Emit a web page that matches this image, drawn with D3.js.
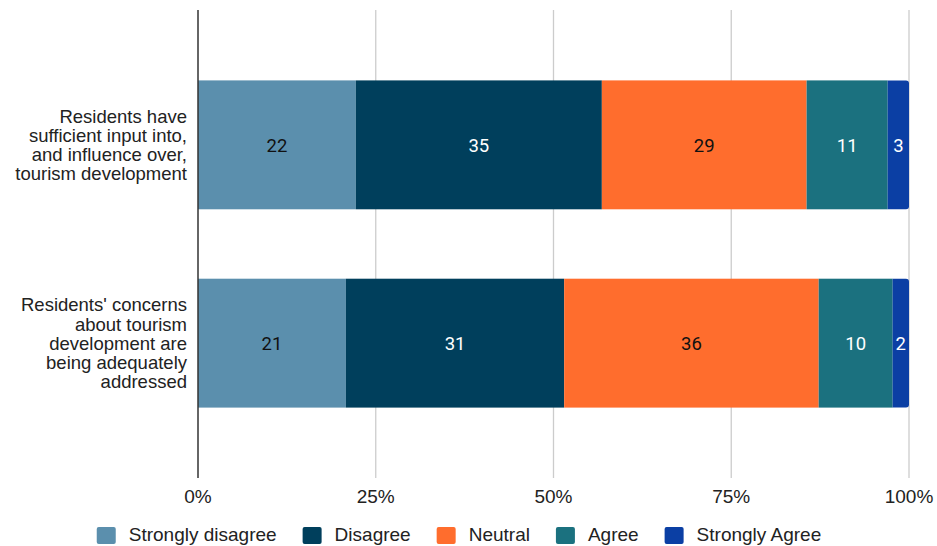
<!DOCTYPE html>
<html>
<head>
<meta charset="utf-8">
<script src="https://cdn.jsdelivr.net/npm/d3@7"></script>
<style>
  body { margin: 0; background: #fff; }
  svg { display: block; }
</style>
</head>
<body>
<div id="chart"></div>
<script>
// categories (y axis), shares in percent per response
var categories = [
  ["Residents have", "sufficient input into,", "and influence over,", "tourism development"],
  ["Residents' concerns", "about tourism", "development are", "being adequately", "addressed"]
];
var seriesNames = ["Strongly disagree", "Disagree", "Neutral", "Agree", "Strongly Agree"];
var seriesColours = ["#5b8fad", "#003f5c", "#ff6d2d", "#1b717f", "#0b3fa4"];
var labelColours = ["#111", "#fff", "#111", "#fff", "#fff"];
var row1 = [22.2, 34.6, 28.8, 11.4, 3.0];
var row2 = [20.8, 30.7, 35.8, 10.4, 2.3];
var xTicks = [0, 25, 50, 75, 100];

var width = 937, height = 546;
var pLeft = 198, pRight = 909, pTop = 10, pBottom = 478;

var svg = d3.select("#chart").append("svg")
  .attr("width", width)
  .attr("height", height);

var rows = [row1, row2];
var keys = categories.map(function(c, i) { return "c" + i; });

var x = d3.scaleLinear().domain([0, 100]).range([pLeft, pRight]);
var y = d3.scaleBand().domain(keys).range([pTop, pBottom])
  .paddingInner(0.35).paddingOuter(0.355);

// gridlines
svg.append("g").selectAll("line")
  .data(xTicks.slice(1))
  .enter().append("line")
  .attr("x1", function(d) { return x(d); })
  .attr("x2", function(d) { return x(d); })
  .attr("y1", pTop).attr("y2", pBottom)
  .attr("stroke", "#cccccc").attr("stroke-width", 1.3);

// bars
var stackData = rows.map(function(r, i) {
  var acc = 0;
  return r.map(function(v, j) {
    var s = { key: keys[i], j: j, x0: acc, x1: acc + v, v: v };
    acc += v;
    return s;
  });
});

var rad = 3;
stackData.forEach(function(segs) {
  var g = svg.append("g");
  segs.forEach(function(s, j) {
    var x0 = x(s.x0), x1 = x(s.x1), y0 = y(s.key), h = y.bandwidth();
    if (j == segs.length - 1) {
      // last segment gets rounded right corners
      g.append("path")
        .attr("d", "M" + x0 + "," + y0 + "H" + (x1 - rad) +
          "Q" + x1 + "," + y0 + " " + x1 + "," + (y0 + rad) +
          "V" + (y0 + h - rad) +
          "Q" + x1 + "," + (y0 + h) + " " + (x1 - rad) + "," + (y0 + h) +
          "H" + x0 + "Z")
        .attr("fill", seriesColours[j]);
    } else {
      g.append("rect")
        .attr("x", x0).attr("y", y0)
        .attr("width", x1 - x0).attr("height", h)
        .attr("fill", seriesColours[j]);
    }
    g.append("text")
      .attr("x", (x0 + x1) / 2)
      .attr("y", y0 + h / 2)
      .attr("dy", "0.36em")
      .attr("text-anchor", "middle")
      .attr("font-family", "Roboto, sans-serif")
      .attr("font-size", 18.5)
      .attr("fill", labelColours[j])
      .text(Math.round(s.v));
  });
});

// y axis line
svg.append("line")
  .attr("x1", pLeft).attr("x2", pLeft)
  .attr("y1", pTop).attr("y2", pBottom)
  .attr("stroke", "#333").attr("stroke-width", 1.5);

// category labels
var lineH = 19.2;
categories.forEach(function(lines, i) {
  var cy = y(keys[i]) + y.bandwidth() / 2;
  var t = svg.append("text")
    .attr("text-anchor", "end")
    .attr("font-family", "'Liberation Sans', Arial, sans-serif")
    .attr("font-size", 18.5)
    .attr("fill", "#222");
  lines.forEach(function(l, k) {
    t.append("tspan")
      .attr("x", 187)
      .attr("y", cy + (k - (lines.length - 1) / 2) * lineH)
      .attr("dy", "0.36em")
      .text(l);
  });
});

// x tick labels
svg.append("g").selectAll("text")
  .data(xTicks)
  .enter().append("text")
  .attr("x", function(d) { return x(d); })
  .attr("y", 503)
  .attr("text-anchor", "middle")
  .attr("font-family", "'Liberation Sans', Arial, sans-serif")
  .attr("font-size", 19)
  .attr("fill", "#222")
  .text(function(d) { return d + "%"; });

// legend
var legend = svg.append("g");
var lx = 0, gap = 26;
seriesNames.forEach(function(n, i) {
  var item = legend.append("g").attr("transform", "translate(" + lx + ",0)");
  item.append("rect")
    .attr("x", 0).attr("y", 527)
    .attr("width", 19).attr("height", 17)
    .attr("rx", 2)
    .attr("fill", seriesColours[i]);
  var t = item.append("text")
    .attr("x", 32).attr("y", 541)
    .attr("font-family", "'Liberation Sans', Arial, sans-serif")
    .attr("font-size", 19)
    .attr("fill", "#222")
    .text(n);
  lx += 32 + t.node().getComputedTextLength() + gap;
});
var legendW = lx - gap;
legend.attr("transform", "translate(" + (459 - legendW / 2) + ",0)");
</script>
</body>
</html>
